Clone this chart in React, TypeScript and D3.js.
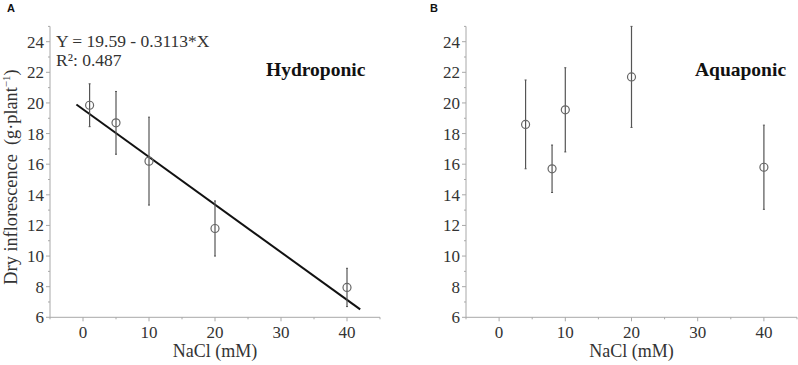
import * as d3 from 'd3';

// Panel A: hydroponic
const hydroNaCl = [1, 5, 10, 20, 40];
const hydroMean = [19.85, 18.7, 16.2, 11.8, 7.95];
const hydroErr = [1.4, 2.05, 2.87, 1.8, 1.25];

// Panel B: aquaponic
const aquaNaCl = [4, 8, 10, 20, 40];
const aquaMean = [18.6, 15.7, 19.55, 21.7, 15.8];
const aquaErr = [2.9, 1.55, 2.75, 3.3, 2.75];

// regression line (hydroponic): Y = 19.59 - 0.3113*X
const fitIntercept = 19.59;
const fitSlope = -0.3113;
const fitRange = [-1, 42];

const xMajor = [0, 10, 20, 30, 40];
const xMinor = [-5, 5, 15, 25, 35, 45];
const yMajor = [6, 8, 10, 12, 14, 16, 18, 20, 22, 24];
const yMinor = [7, 9, 11, 13, 15, 17, 19, 21, 23, 25];

const serif = '"Liberation Serif", "Times New Roman", serif';
const sans = '"Liberation Sans", Arial, sans-serif';
const axisColor = '#a8a8a8';
const textColor = '#333';
const tickSize = 17;

interface PanelProps {
  x0: number;
  x1: number;
  xs: number[];
  means: number[];
  errs: number[];
  letter: string;
  letterX: number;
  title: string;
  titleX: number;
  yLabel?: boolean;
  fit?: boolean;
}

function Panel({ x0, x1, xs, means, errs, letter, letterX, title, titleX, yLabel, fit }: PanelProps) {
  const x = d3.scaleLinear().domain([-5, 45]).range([x0, x1]);
  const y = d3.scaleLinear().domain([6, 24]).range([317.3, 41.7]);
  const yBottom = y(6);
  const line = d3.line<number>().x((d) => x(d)).y((d) => y(fitIntercept + fitSlope * d));

  return (
    <g>
      <text x={letterX} y={12} fontFamily={sans} fontWeight="bold" fontSize={11} fill="#111">{letter}</text>
      {/* y axis */}
      <line x1={x0} x2={x0} y1={y(25)} y2={yBottom} stroke={axisColor} />
      {yMajor.map((v) => (
        <g key={'ym' + v}>
          <line x1={x0 - 4} x2={x0} y1={y(v)} y2={y(v)} stroke={axisColor} />
          <text x={x0 - 6} y={y(v)} dy="0.35em" textAnchor="end" fontFamily={serif} fontSize={tickSize} fill={textColor}>{v}</text>
        </g>
      ))}
      {yMinor.map((v) => (
        <line key={'yn' + v} x1={x0 - 2} x2={x0} y1={y(v)} y2={y(v)} stroke={axisColor} />
      ))}
      {/* x axis */}
      <line x1={x0} x2={x1} y1={yBottom} y2={yBottom} stroke={axisColor} />
      {xMajor.map((v) => (
        <g key={'xm' + v}>
          <line x1={x(v)} x2={x(v)} y1={yBottom} y2={yBottom + 4} stroke={axisColor} />
          <text x={x(v)} y={yBottom + 21} textAnchor="middle" fontFamily={serif} fontSize={tickSize} fill={textColor}>{v}</text>
        </g>
      ))}
      {xMinor.map((v) => (
        <line key={'xn' + v} x1={x(v)} x2={x(v)} y1={yBottom} y2={yBottom + 2} stroke={axisColor} />
      ))}
      <text x={x(20)} y={357} textAnchor="middle" fontFamily={serif} fontSize={18} fill={textColor}>NaCl (mM)</text>
      {yLabel && (
        <text transform={`translate(17, 177) rotate(-90)`} textAnchor="middle" fontFamily={serif} fontSize={18.3} fill={textColor}>
          {'Dry inflorescence \u00a0(g·plant'}<tspan dy="-7" fontSize={11}>−1</tspan><tspan dy="7">)</tspan>
        </text>
      )}
      <text x={titleX} y={76} fontFamily={serif} fontWeight="bold" fontSize={19.5} fill="#111">{title}</text>
      {fit && (
        <g>
          <path d={line(fitRange) ?? ''} fill="none" stroke="#111" strokeWidth={2} />
          <text x={56} y={47} fontFamily={serif} fontSize={17.5} fill={textColor}>Y = 19.59 - 0.3113*X</text>
          <text x={56} y={66} fontFamily={serif} fontSize={17.5} fill={textColor}>R²: 0.487</text>
        </g>
      )}
      {xs.map((v, i) => (
        <g key={'p' + i}>
          <line x1={x(v)} x2={x(v)} y1={y(means[i] + errs[i])} y2={y(means[i] - errs[i])} stroke="#555" strokeWidth={1.2} />
          <line x1={x(v) - 1} x2={x(v) + 1} y1={y(means[i] + errs[i])} y2={y(means[i] + errs[i])} stroke="#555" />
          <line x1={x(v) - 1} x2={x(v) + 1} y1={y(means[i] - errs[i])} y2={y(means[i] - errs[i])} stroke="#555" />
          <circle cx={x(v)} cy={y(means[i])} r={4} fill="none" stroke="#666" strokeWidth={1.2} />
        </g>
      ))}
    </g>
  );
}

export default function App() {
  return (
    <svg width={798} height={365} style={{ position: 'absolute', left: 0, top: 0, background: '#fff' }}>
      <Panel x0={50} x1={380} xs={hydroNaCl} means={hydroMean} errs={hydroErr} letter="A" letterX={7} title="Hydroponic" titleX={266} yLabel fit />
      <Panel x0={466} x1={797} xs={aquaNaCl} means={aquaMean} errs={aquaErr} letter="B" letterX={430} title="Aquaponic" titleX={695} />
    </svg>
  );
}
